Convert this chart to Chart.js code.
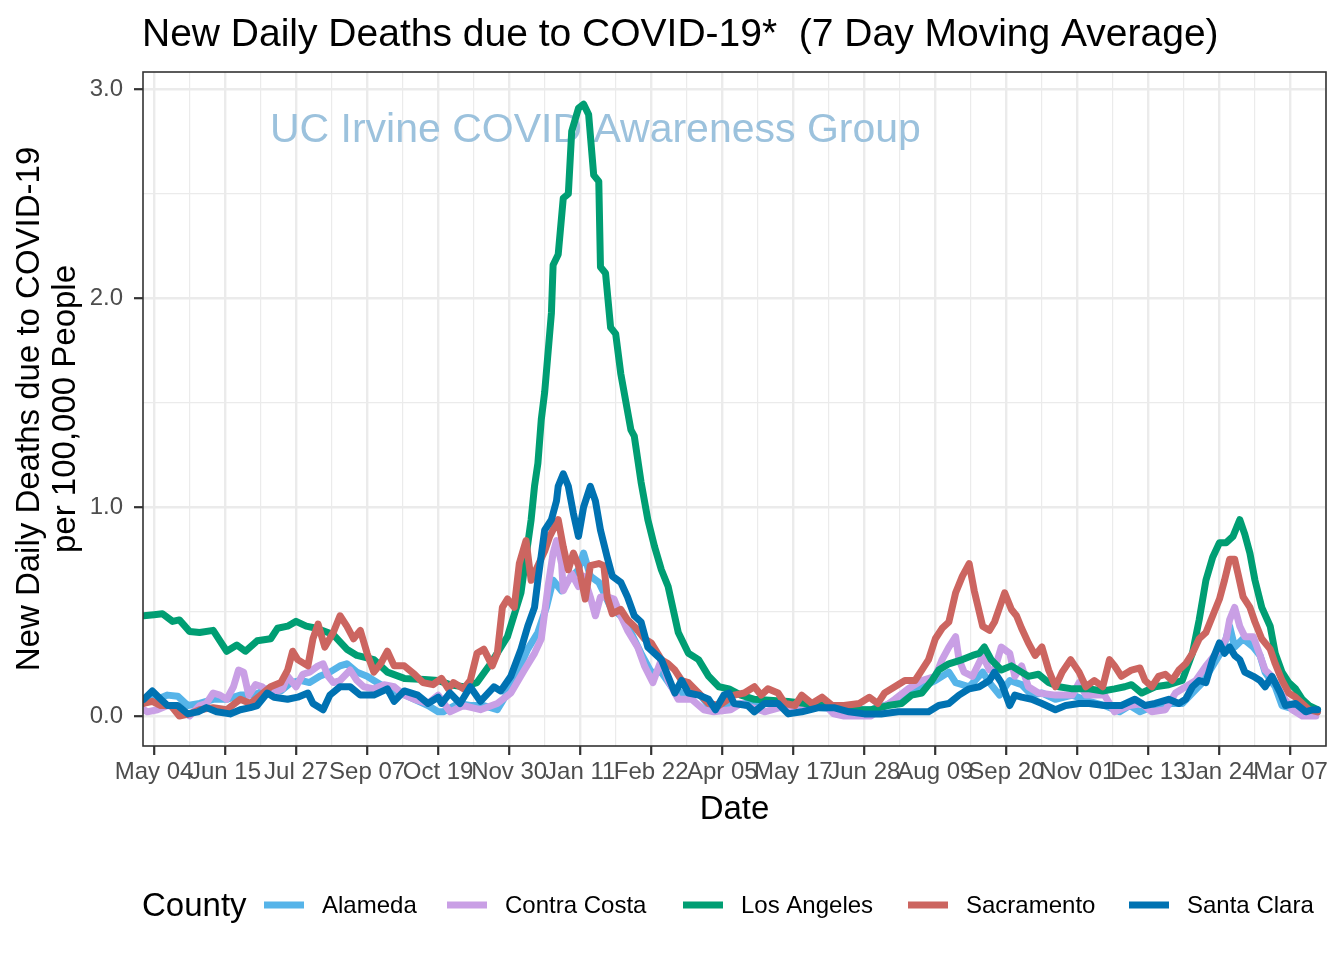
<!DOCTYPE html>
<html>
<head>
<meta charset="utf-8">
<style>
html,body{margin:0;padding:0;background:#ffffff;}
#wrap{width:1344px;height:960px;}
</style>
<script src="https://cdn.jsdelivr.net/npm/chart.js@4.4.1/dist/chart.umd.min.js"></script>
</head>
<body>
<div id="wrap"><canvas id="c" width="1344" height="960"></canvas></div>
<script>
// ---------- texts ----------
const chartTitle = 'New Daily Deaths due to COVID-19*  (7 Day Moving Average)';
const watermarkText = 'UC Irvine COVID Awareness Group';
const yAxisTitle = ['New Daily Deaths due to COVID-19', 'per 100,000 People'];
const xAxisTitle = 'Date';
const legendTitle = 'County';

// ---------- categories ----------
const counties = ['Alameda', 'Contra Costa', 'Los Angeles', 'Sacramento', 'Santa Clara'];
const countyColors = ['#56B4E9', '#C99FE5', '#009E73', '#CC6560', '#0072B2'];

// ---------- ticks (x = days since 2020-05-04) ----------
const xTickDays = [0, 42, 84, 126, 168, 210, 252, 294, 336, 378, 420, 462, 504, 546, 588, 630, 672];
const xTickLabels = ['May 04', 'Jun 15', 'Jul 27', 'Sep 07', 'Oct 19', 'Nov 30', 'Jan 11', 'Feb 22', 'Apr 05',
  'May 17', 'Jun 28', 'Aug 09', 'Sep 20', 'Nov 01', 'Dec 13', 'Jan 24', 'Mar 07'];
const xMinorDays = [21, 63, 105, 147, 189, 231, 273, 315, 357, 399, 441, 483, 525, 567, 609, 651, 693];
const yTickValues = [0, 1, 2, 3];
const yTickLabels = ['0.0', '1.0', '2.0', '3.0'];
const yMinorValues = [0.5, 1.5, 2.5];

// ---------- series (day offset, deaths per 100k) ----------
const alamedaDays = [-6,2,8,14,20,27,35,43,51,59,67,75,81,87,92,98,104,110,114,120,126,130,138,146,154,162,168,171,180,187,195,203,209,215,221,227,232,236,241,245,251,254,258,263,266,270,276,282,288,294,300,306,314,322,328,335,341,359,377,395,412,424,436,446,454,462,470,474,482,490,494,500,506,513,519,525,533,543,553,562,571,577,583,592,602,608,614,620,626,632,636,639,644,650,654,657,663,667,675,683,688];
const alamedaVals = [0.08,0.08,0.10,0.095,0.05,0.06,0.08,0.08,0.10,0.10,0.13,0.12,0.16,0.17,0.16,0.19,0.21,0.24,0.25,0.21,0.19,0.17,0.13,0.11,0.08,0.05,0.02,0.02,0.06,0.05,0.05,0.03,0.11,0.21,0.32,0.40,0.52,0.65,0.60,0.65,0.70,0.78,0.67,0.64,0.59,0.52,0.48,0.40,0.30,0.21,0.21,0.14,0.10,0.11,0.05,0.03,0.05,0.07,0.05,0.04,0.03,0.03,0.06,0.11,0.14,0.17,0.21,0.16,0.14,0.21,0.16,0.10,0.17,0.15,0.10,0.11,0.08,0.10,0.07,0.05,0.02,0.05,0.02,0.05,0.06,0.06,0.11,0.16,0.24,0.32,0.43,0.33,0.37,0.33,0.29,0.21,0.14,0.05,0.03,0.02,0.02];

const contraCostaDays = [-6,-4,2,8,14,21,27,31,35,39,43,47,50,53,56,60,64,68,73,76,79,84,88,92,97,100,103,106,110,116,120,124,130,136,142,148,154,162,168,175,183,193,203,211,219,225,229,233,236,238,241,242,247,251,254,258,261,264,268,272,276,280,286,290,295,300,304,310,318,325,331,341,347,361,370,385,397,402,408,424,438,446,454,462,466,470,474,476,479,484,490,494,497,501,506,509,513,517,523,533,543,547,551,562,568,577,584,590,598,604,610,616,622,628,634,636,639,642,645,650,654,657,661,667,673,679,687];
const contraCostaVals = [0.03,0.02,0.03,0.05,0.04,0.0,0.05,0.06,0.11,0.10,0.08,0.14,0.22,0.21,0.10,0.15,0.14,0.11,0.12,0.13,0.19,0.14,0.20,0.21,0.24,0.25,0.19,0.16,0.17,0.22,0.17,0.14,0.13,0.15,0.14,0.10,0.08,0.06,0.10,0.02,0.05,0.03,0.06,0.11,0.22,0.30,0.37,0.62,0.78,0.84,0.73,0.60,0.68,0.62,0.67,0.57,0.48,0.57,0.57,0.56,0.48,0.41,0.33,0.24,0.16,0.27,0.17,0.08,0.08,0.03,0.02,0.03,0.06,0.02,0.04,0.05,0.05,0.01,0.0,0.0,0.08,0.13,0.17,0.19,0.27,0.33,0.38,0.27,0.21,0.19,0.29,0.22,0.22,0.33,0.30,0.19,0.24,0.14,0.11,0.10,0.10,0.16,0.10,0.10,0.02,0.05,0.06,0.02,0.03,0.11,0.14,0.17,0.24,0.30,0.37,0.46,0.52,0.43,0.38,0.38,0.29,0.22,0.19,0.10,0.03,0.0,0.0];

const losAngelesDays = [-6,0,5,11,15,21,27,35,43,49,54,61,69,73,79,84,90,96,106,114,120,130,138,148,160,168,175,183,191,199,209,217,223,225,227,229,231,235,236,239,242,245,247,251,254,257,260,263,264,267,270,273,276,282,284,288,292,296,300,304,310,316,322,328,334,340,347,355,375,385,395,405,414,424,434,442,448,454,460,464,470,478,484,488,491,495,501,507,513,517,523,529,535,543,553,561,568,574,578,584,592,600,608,614,618,622,626,630,634,638,642,645,648,651,655,660,663,667,671,675,679,683,688];
const losAngelesVals = [0.48,0.485,0.49,0.453,0.46,0.405,0.40,0.41,0.31,0.34,0.31,0.36,0.37,0.42,0.43,0.453,0.43,0.42,0.39,0.32,0.29,0.27,0.21,0.18,0.175,0.17,0.15,0.14,0.16,0.25,0.38,0.59,0.94,1.10,1.21,1.42,1.55,1.93,2.16,2.21,2.48,2.50,2.80,2.91,2.93,2.88,2.59,2.56,2.15,2.12,1.86,1.83,1.64,1.37,1.34,1.12,0.94,0.81,0.70,0.62,0.40,0.30,0.27,0.19,0.14,0.13,0.10,0.08,0.07,0.06,0.05,0.04,0.03,0.03,0.05,0.06,0.10,0.11,0.17,0.22,0.25,0.27,0.29,0.30,0.33,0.27,0.22,0.24,0.21,0.19,0.20,0.16,0.14,0.13,0.13,0.12,0.13,0.14,0.15,0.11,0.14,0.15,0.17,0.30,0.46,0.65,0.76,0.83,0.83,0.86,0.94,0.87,0.78,0.65,0.52,0.43,0.30,0.21,0.16,0.13,0.08,0.05,0.03];

const sacramentoDays = [-6,-1,4,10,15,21,27,35,43,51,57,63,69,75,79,82,85,91,94,97,101,106,110,114,118,122,126,130,134,138,142,148,154,159,165,170,174,177,183,187,191,195,200,203,206,209,213,216,220,223,227,231,234,239,242,245,248,251,255,258,263,266,268,271,276,280,284,290,294,300,304,308,312,316,322,328,334,343,349,355,359,363,369,373,379,383,389,395,401,408,417,423,428,432,438,444,450,454,458,462,466,470,474,478,482,485,490,494,497,500,503,507,510,513,517,521,525,529,533,537,542,547,551,556,561,565,568,572,578,583,586,590,594,598,602,606,610,614,618,622,626,630,633,636,639,641,644,648,651,655,660,663,667,671,675,679,683,688];
const sacramentoVals = [0.06,0.07,0.05,0.05,0.0,0.01,0.03,0.04,0.03,0.08,0.06,0.10,0.14,0.16,0.22,0.31,0.27,0.24,0.37,0.44,0.33,0.40,0.48,0.43,0.37,0.41,0.30,0.21,0.25,0.31,0.24,0.24,0.20,0.16,0.15,0.18,0.13,0.16,0.13,0.17,0.30,0.32,0.24,0.30,0.52,0.56,0.52,0.73,0.84,0.65,0.72,0.79,0.86,0.94,0.81,0.70,0.78,0.72,0.56,0.72,0.73,0.72,0.57,0.49,0.51,0.46,0.43,0.37,0.35,0.27,0.25,0.22,0.17,0.16,0.11,0.06,0.05,0.10,0.11,0.14,0.10,0.13,0.11,0.06,0.05,0.10,0.06,0.09,0.05,0.05,0.06,0.09,0.06,0.11,0.14,0.17,0.17,0.22,0.27,0.37,0.42,0.45,0.59,0.67,0.73,0.60,0.43,0.41,0.45,0.52,0.59,0.51,0.48,0.42,0.35,0.29,0.33,0.22,0.14,0.21,0.27,0.21,0.14,0.17,0.14,0.27,0.24,0.19,0.22,0.23,0.17,0.14,0.19,0.20,0.17,0.22,0.25,0.30,0.37,0.40,0.48,0.56,0.65,0.75,0.75,0.68,0.57,0.52,0.45,0.37,0.32,0.25,0.17,0.11,0.09,0.06,0.03,0.02];

const santaClaraDays = [-6,-1,4,8,14,20,26,31,37,45,51,57,61,67,71,79,85,91,94,100,104,110,116,122,130,138,142,148,156,162,168,170,175,181,187,193,201,205,211,217,221,225,227,231,235,238,239,242,245,248,251,254,258,261,264,268,271,276,280,284,288,292,296,300,304,308,312,316,322,328,332,337,340,343,351,355,361,369,375,383,393,402,411,420,430,440,450,458,464,470,476,482,488,494,497,501,506,509,513,519,525,533,539,547,553,562,572,580,586,592,600,606,610,614,618,622,626,630,633,636,639,642,645,650,654,657,661,666,669,675,681,685,688];
const santaClaraVals = [0.08,0.12,0.08,0.05,0.05,0.01,0.02,0.04,0.02,0.01,0.03,0.04,0.05,0.11,0.09,0.08,0.09,0.11,0.06,0.03,0.10,0.14,0.14,0.10,0.10,0.13,0.07,0.12,0.10,0.06,0.09,0.06,0.11,0.06,0.14,0.07,0.14,0.12,0.19,0.32,0.43,0.52,0.65,0.89,0.94,1.03,1.10,1.16,1.10,0.97,0.86,1.00,1.10,1.03,0.89,0.76,0.67,0.64,0.57,0.48,0.45,0.33,0.30,0.27,0.19,0.11,0.17,0.11,0.10,0.08,0.03,0.10,0.11,0.06,0.05,0.02,0.06,0.06,0.01,0.02,0.04,0.04,0.02,0.01,0.01,0.02,0.02,0.02,0.05,0.06,0.10,0.13,0.14,0.17,0.21,0.16,0.05,0.10,0.09,0.08,0.06,0.03,0.05,0.06,0.06,0.05,0.05,0.08,0.05,0.06,0.08,0.06,0.08,0.14,0.17,0.16,0.27,0.35,0.30,0.33,0.29,0.27,0.21,0.19,0.17,0.14,0.19,0.11,0.05,0.06,0.02,0.03,0.03];

// ---------- annotation position (data coords) ----------
const watermarkDay = 261;
const watermarkValue = 2.75;

// ---------- build ----------
const FONT = '"Liberation Sans", Arial, Helvetica, sans-serif';
Chart.defaults.font.family = FONT;

const seriesDays = [alamedaDays, contraCostaDays, losAngelesDays, sacramentoDays, santaClaraDays];
const seriesVals = [alamedaVals, contraCostaVals, losAngelesVals, sacramentoVals, santaClaraVals];

const datasets = counties.map((name, i) => ({
  label: name,
  data: seriesDays[i].map((d, j) => ({ x: d, y: seriesVals[i][j] })),
  borderColor: countyColors[i],
  backgroundColor: countyColors[i],
  borderWidth: 7,
  pointRadius: 0,
  tension: 0,
  fill: false,
  borderJoinStyle: 'round',
  borderCapStyle: 'round',
  order: counties.length - i
}));

const xGrid = xTickDays.concat(xMinorDays).sort((a, b) => a - b);
const yGrid = yTickValues.concat(yMinorValues).sort((a, b) => a - b);

const decorPlugin = {
  id: 'decor',
  beforeDatasetsDraw(chart) {
    const { ctx, scales } = chart;
    ctx.save();
    ctx.font = '41px ' + FONT;
    ctx.fillStyle = '#9CC2DD';
    ctx.textAlign = 'center';
    ctx.textBaseline = 'alphabetic';
    ctx.fillText(watermarkText, scales.x.getPixelForValue(watermarkDay), scales.y.getPixelForValue(watermarkValue));
    ctx.restore();
  },
  afterDraw(chart) {
    const { ctx, chartArea: a } = chart;
    ctx.save();
    // panel border
    ctx.strokeStyle = '#333333';
    ctx.lineWidth = 1.6;
    ctx.strokeRect(a.left, a.top, a.right - a.left, a.bottom - a.top);
    // title
    ctx.fillStyle = '#000000';
    ctx.textAlign = 'left';
    ctx.textBaseline = 'alphabetic';
    ctx.font = '39px ' + FONT;
    ctx.fillText(chartTitle, 142, 46);
    // legend
    ctx.font = '33px ' + FONT;
    ctx.fillText(legendTitle, 142, 916);
    const keyX = [264, 447, 683, 908, 1129];
    ctx.font = '24px ' + FONT;
    counties.forEach((name, i) => {
      ctx.strokeStyle = countyColors[i];
      ctx.lineWidth = 7;
      ctx.lineCap = 'butt';
      ctx.beginPath();
      ctx.moveTo(keyX[i], 905);
      ctx.lineTo(keyX[i] + 40, 905);
      ctx.stroke();
      ctx.fillStyle = '#000000';
      ctx.fillText(name, keyX[i] + 58, 913);
    });
    ctx.restore();
  }
};

const gridColor = '#EBEBEB';

new Chart(document.getElementById('c'), {
  type: 'line',
  data: { datasets },
  plugins: [decorPlugin],
  options: {
    responsive: false,
    animation: false,
    devicePixelRatio: 1,
    layout: { padding: { left: 0, right: 18, top: 72, bottom: 114 } },
    plugins: { legend: { display: false }, tooltip: { enabled: false }, title: { display: false } },
    scales: {
      x: {
        type: 'linear',
        min: -6.5,
        max: 693,
        afterBuildTicks: s => { s.ticks = xGrid.map(v => ({ value: v })); },
        afterFit: s => { s.height = 100; },
        ticks: {
          autoSkip: false, maxRotation: 0, minRotation: 0, padding: 3,
          color: '#4D4D4D', font: { size: 24 },
          callback: v => { const i = xTickDays.indexOf(v); return i >= 0 ? xTickLabels[i] : ''; }
        },
        grid: {
          color: gridColor,
          lineWidth: c => (c.tick && xTickDays.includes(c.tick.value)) ? 2.4 : 1.2,
          tickColor: c => (c.tick && xTickDays.includes(c.tick.value)) ? '#333333' : 'rgba(0,0,0,0)',
          tickLength: 9,
          tickWidth: 2.2
        },
        border: { display: false },
        title: { display: true, text: xAxisTitle, color: '#000000', font: { size: 33 }, padding: { top: 0, bottom: 16 } }
      },
      y: {
        type: 'linear',
        min: -0.1437,
        max: 3.0838,
        afterBuildTicks: s => { s.ticks = yGrid.map(v => ({ value: v })); },
        afterFit: s => { s.width = 143; },
        ticks: {
          padding: 11, color: '#4D4D4D', font: { size: 24 },
          callback: v => { const i = yTickValues.indexOf(v); return i >= 0 ? yTickLabels[i] : ''; }
        },
        grid: {
          color: gridColor,
          lineWidth: c => (c.tick && yTickValues.includes(c.tick.value)) ? 2.4 : 1.2,
          tickColor: c => (c.tick && yTickValues.includes(c.tick.value)) ? '#333333' : 'rgba(0,0,0,0)',
          tickLength: 9,
          tickWidth: 2.2
        },
        border: { display: false },
        title: { display: true, text: yAxisTitle, color: '#000000', font: { size: 33, lineHeight: 1.09 }, padding: { top: 12, bottom: 0 } }
      }
    }
  }
});
</script>
</body>
</html>
